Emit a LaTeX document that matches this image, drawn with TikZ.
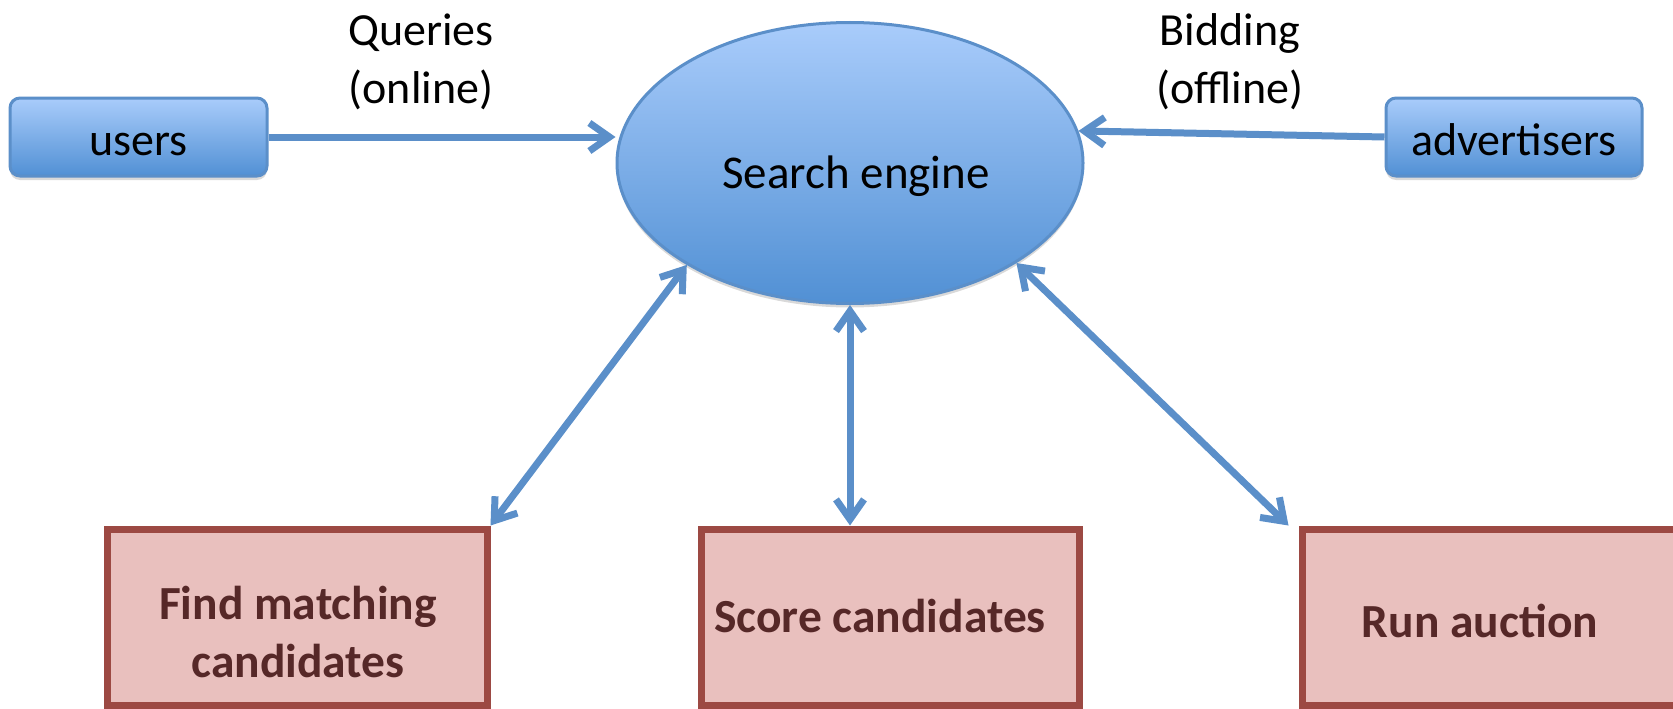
\documentclass[tikz,border=0pt]{standalone}
\usepackage{fontspec}
\setmainfont{Carlito}
\usetikzlibrary{arrows.meta,shapes.geometric,shadows}
\definecolor{blueline}{HTML}{5B8FC9}
\definecolor{bluetop}{HTML}{A9CCFB}
\definecolor{bluebot}{HTML}{5190D4}
\definecolor{redline}{HTML}{9C4943}
\definecolor{redfill}{HTML}{E9C0BE}
\definecolor{redtext}{HTML}{562828}
\tikzset{
  bluebox/.style={draw=blueline, line width=3pt, rounded corners=10pt, top color=bluetop, bottom color=bluebot,
    minimum height=78pt, inner sep=0pt, font=\fontsize{46}{50}\selectfont, text height=36pt, text depth=0pt,
    drop shadow={opacity=0.3, shadow xshift=0pt, shadow yshift=-4pt}},
  stepbox/.style={draw=redline, fill=redfill, line width=7pt, minimum height=176pt, inner sep=0pt},
  steptext/.style={text=redtext, align=center, font=\fontsize{47.5}{58}\bfseries\selectfont},
  tip/.tip={Straight Barb[length=20pt, width=28pt, line width=7pt]},
  link/.style={draw=blueline, line width=7pt, -tip},
  dlink/.style={draw=blueline, line width=7pt, tip-tip},
  lbl/.style={align=center, font=\fontsize{46}{58}\selectfont}
}
\begin{document}
\begin{tikzpicture}[x=1pt, y=-1pt]
\useasboundingbox (0,0) rectangle (1673,709);
\node[bluebox, minimum width=257pt] (users) at (138.5,137) {users};
\node[bluebox, minimum width=256pt] (adv) at (1514,137) {advertisers};
\node[ellipse, draw=blueline, line width=3pt, top color=bluetop, bottom color=bluebot,
  minimum width=466pt, minimum height=281pt, inner sep=0pt,
  drop shadow={opacity=0.3, shadow xshift=0pt, shadow yshift=-4pt}] (se) at (850,163) {};
\node[font=\fontsize{47}{50}\selectfont, anchor=base] (setext) at (856,188) {Search engine};
\node[stepbox, minimum width=380pt] (find) at (297,617) {};
\node[stepbox, minimum width=378pt] (score) at (890,617) {};
\node[stepbox, minimum width=380pt] (run) at (1492,617) {};
\node[steptext] (findt) at (298,632) {Find matching\\candidates};
\node[steptext] (scoret) at (880,616) {Score candidates};
\node[steptext] (runt) at (1480,621) {Run auction};
\node[lbl] (q) at (421,62) {Queries\\(online)};
\node[lbl] (b) at (1230,62) {Bidding\\(offline)};
\draw[link] (users.east) -- (users.east -| se.west);
\draw[link] (adv.west) -- (se.8);
\draw[dlink] (se.212) -- (find.north east);
\draw[dlink] (se.south) -- (se.south |- score.north);
\draw[dlink] (se.-31.5) -- ([xshift=-10pt]run.north west);
\end{tikzpicture}
\end{document}
